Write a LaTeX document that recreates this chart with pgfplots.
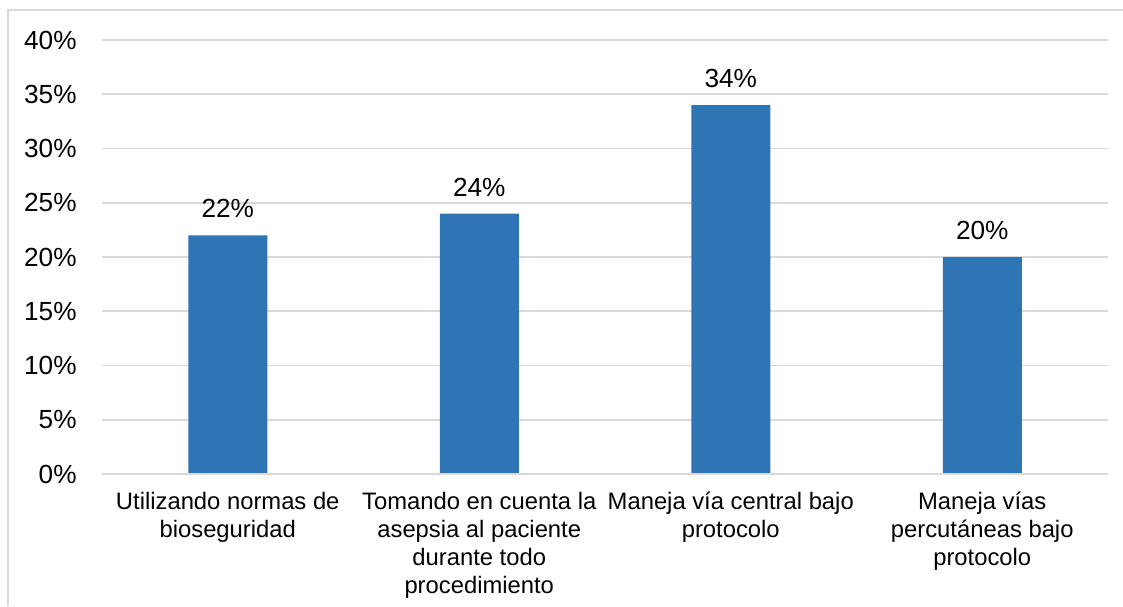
\documentclass[border=0pt]{standalone}
\usepackage{pgfplots}
\pgfplotsset{compat=1.18}
\usepackage{fontspec}
\setmainfont{Liberation Sans}
\definecolor{barblue}{HTML}{2E75B6}
\definecolor{gridgray}{HTML}{D9D9D9}
\begin{document}
\fontsize{11.9}{14}\selectfont
\begin{tikzpicture}
\useasboundingbox (0,0) rectangle (561.5pt,-303pt);
\draw[gridgray, line width=0.8pt] (4pt,-303pt) -- (4pt,-5pt) -- (561.5pt,-5pt);
\begin{axis}[
  at={(51pt,-237pt)}, anchor=south west,
  scale only axis, width=503pt, height=217pt,
  xmin=-0.5, xmax=3.5, ymin=0, ymax=40,
  axis line style={draw=none},
  axis x line*=bottom,
  ytick={0,5,...,40},
  xtick=data,
  xticklabels={{Utilizando normas de\\bioseguridad},{Tomando en cuenta la\\asepsia al paciente\\durante todo\\procedimiento},{Maneja vía central bajo\\protocolo},{Maneja vías\\percutáneas bajo\\protocolo}},
  major tick length=0pt,
  ymajorgrids, grid style={gridgray, line width=0.8pt},
  /pgf/number format/assume math mode=true,
  yticklabel={\pgfmathprintnumber{\tick}\%},
  yticklabel style={font=\fontsize{13.1}{15}\selectfont, inner sep=0pt, anchor=east, xshift=-12.5pt},
  xticklabel style={font=\fontsize{11.9}{14}\selectfont, align=center, inner sep=0pt, anchor=north, yshift=-9pt},
  ybar, bar width=39.5pt,
  nodes near coords={\pgfmathprintnumber[assume math mode=true]{\pgfplotspointmeta}\%},
  nodes near coords style={font=\fontsize{13.1}{15}\selectfont, anchor=south, inner sep=0pt, yshift=8.5pt, text=black},
  clip=false,
]
\addplot[fill=barblue, draw=none] coordinates {(0,22) (1,24) (2,34) (3,20)};
\draw[gridgray, line width=0.8pt] (axis cs:-0.5,0) -- (axis cs:3.5,0);
\end{axis}
\end{tikzpicture}
\end{document}
